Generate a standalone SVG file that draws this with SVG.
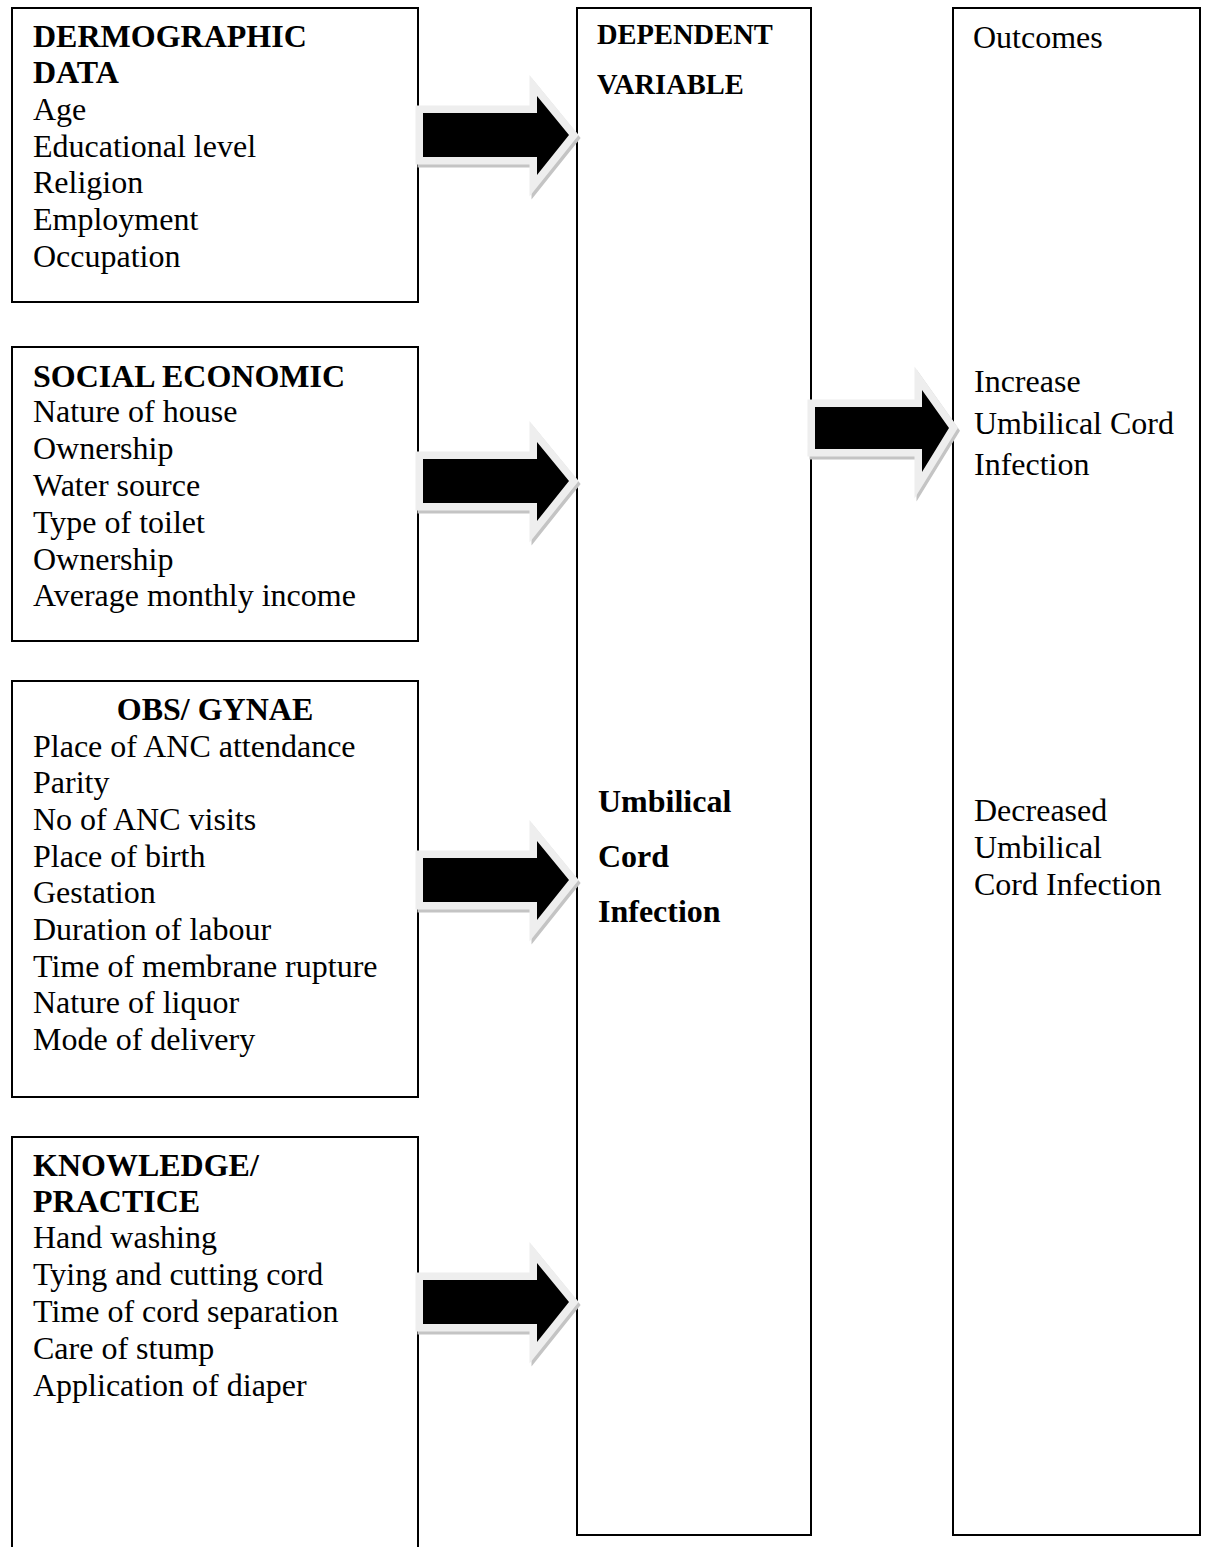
<svg xmlns="http://www.w3.org/2000/svg" width="1205" height="1547" viewBox="0 0 1205 1547">
<style>
.box{fill:#fff;stroke:#000;stroke-width:2}
.t{font-family:"Liberation Serif","Times New Roman",serif;font-size:32px;fill:#000}
.b{font-weight:bold}
.sh{fill:#c4c4c4;stroke:#c4c4c4;stroke-width:15;stroke-linejoin:miter}
.ol{fill:#eeeeee;stroke:#eeeeee;stroke-width:15;stroke-linejoin:miter}
.ar{fill:#000}
</style>
<defs>
<path id="la" d="M0,-22 H114 V-39 L146,0 L114,40 V22 H0 Z"/>
<path id="ra" d="M0,-21 H107 V-38 L134,0 L107,44 V21 H0 Z"/>
</defs>
<rect width="1205" height="1547" fill="#fff"/>

<g id="node-demographic">
<rect class="box" x="12" y="8" width="406" height="294"/>
<text class="t b" x="33" y="47">DERMOGRAPHIC</text>
<text class="t b" x="33" y="83">DATA</text>
<text class="t" x="33" y="120">Age</text>
<text class="t" x="33" y="157">Educational level</text>
<text class="t" x="33" y="193">Religion</text>
<text class="t" x="33" y="230">Employment</text>
<text class="t" x="33" y="267">Occupation</text>
</g>

<g id="node-social">
<rect class="box" x="12" y="347" width="406" height="294"/>
<text class="t b" x="33" y="387">SOCIAL ECONOMIC</text>
<text class="t" x="33" y="422">Nature of house</text>
<text class="t" x="33" y="459">Ownership</text>
<text class="t" x="33" y="496">Water source</text>
<text class="t" x="33" y="533">Type of toilet</text>
<text class="t" x="33" y="570">Ownership</text>
<text class="t" x="33" y="606">Average monthly income</text>
</g>

<g id="node-obs">
<rect class="box" x="12" y="681" width="406" height="416"/>
<text class="t b" x="215" y="720" text-anchor="middle">OBS/ GYNAE</text>
<text class="t" x="33" y="757">Place of ANC attendance</text>
<text class="t" x="33" y="793">Parity</text>
<text class="t" x="33" y="830">No of ANC visits</text>
<text class="t" x="33" y="867">Place of birth</text>
<text class="t" x="33" y="903">Gestation</text>
<text class="t" x="33" y="940">Duration of labour</text>
<text class="t" x="33" y="977">Time of membrane rupture</text>
<text class="t" x="33" y="1013">Nature of liquor</text>
<text class="t" x="33" y="1050">Mode of delivery</text>
</g>

<g id="node-knowledge">
<rect class="box" x="12" y="1137" width="406" height="420"/>
<text class="t b" x="33" y="1176">KNOWLEDGE/</text>
<text class="t b" x="33" y="1212">PRACTICE</text>
<text class="t" x="33" y="1248">Hand washing</text>
<text class="t" x="33" y="1285">Tying and cutting cord</text>
<text class="t" x="33" y="1322">Time of cord separation</text>
<text class="t" x="33" y="1359">Care of stump</text>
<text class="t" x="33" y="1396">Application of diaper</text>
</g>

<g id="node-dependent">
<rect class="box" x="577" y="8" width="234" height="1527"/>
<text class="t b" x="597" y="44" style="font-size:28.5px">DEPENDENT</text>
<text class="t b" x="597" y="94" style="font-size:28.5px">VARIABLE</text>
<text class="t b" x="598" y="812">Umbilical</text>
<text class="t b" x="598" y="867">Cord</text>
<text class="t b" x="598" y="922">Infection</text>
</g>

<g id="node-outcomes">
<rect class="box" x="953" y="8" width="247" height="1527"/>
<text class="t" x="973" y="48">Outcomes</text>
<text class="t" x="974" y="392">Increase</text>
<text class="t" x="974" y="434">Umbilical Cord</text>
<text class="t" x="974" y="475">Infection</text>
<text class="t" x="974" y="821">Decreased</text>
<text class="t" x="974" y="858">Umbilical</text>
<text class="t" x="974" y="895">Cord Infection</text>
</g>

<g id="connectors">
<g transform="translate(423,135)">
<use href="#la" class="sh" transform="translate(2,3)"/><use href="#la" class="ol"/><use href="#la" class="ar"/>
</g>
<g transform="translate(423,481)">
<use href="#la" class="sh" transform="translate(2,3)"/><use href="#la" class="ol"/><use href="#la" class="ar"/>
</g>
<g transform="translate(423,880)">
<use href="#la" class="sh" transform="translate(2,3)"/><use href="#la" class="ol"/><use href="#la" class="ar"/>
</g>
<g transform="translate(423,1302)">
<use href="#la" class="sh" transform="translate(2,3)"/><use href="#la" class="ol"/><use href="#la" class="ar"/>
</g>
<g transform="translate(815,428)">
<use href="#ra" class="sh" transform="translate(2,3)"/><use href="#ra" class="ol"/><use href="#ra" class="ar"/>
</g>
</g>
</svg>
